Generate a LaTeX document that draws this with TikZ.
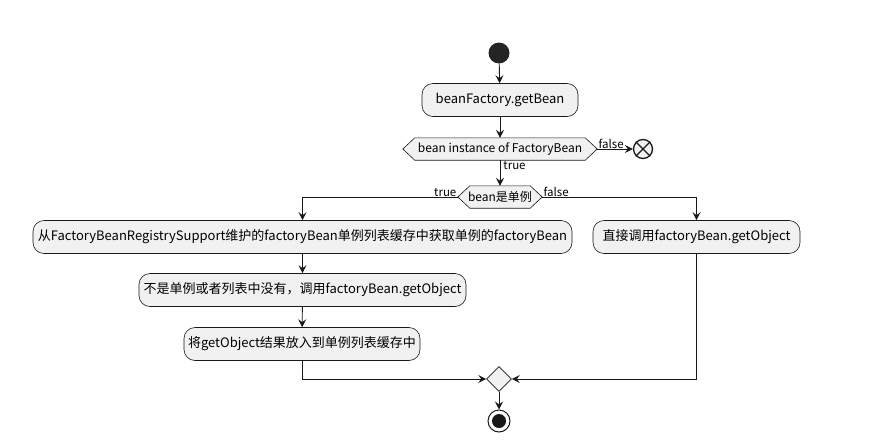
\documentclass[tikz,border=0pt]{standalone}
\usepackage{fontspec}
\setmainfont{Noto Sans CJK SC}
\usetikzlibrary{arrows.meta,shapes.geometric,calc}
\definecolor{actfill}{HTML}{F1F1F1}
\definecolor{lineclr}{HTML}{181818}
\tikzset{
  act/.style={draw=lineclr,fill=actfill,rounded corners=11pt,line width=0.6pt,minimum height=33pt,inner xsep=0pt,font=\fontsize{13}{15}\selectfont,anchor=center},
  hexbox/.style={draw=none,minimum height=22pt,inner sep=0pt,font=\fontsize{12}{14}\selectfont},
  hexline/.style={draw=lineclr,fill=actfill,line width=0.6pt},
  arr/.style={draw=lineclr,line width=0.9pt,-{Stealth[length=8pt,width=8pt,inset=3pt]}},
  lbl/.style={font=\fontsize{11.5}{13}\selectfont,inner sep=1pt,text=black},
}
\begin{document}
\begin{tikzpicture}[x=1pt,y=-1pt]
\useasboundingbox (0,0) rectangle (875,442);
% start
\node[circle,fill=lineclr!95,minimum size=21pt,inner sep=0pt] (start) at (499,53) {};
\node[act,minimum width=156pt] (b1) at (500,100) {beanFactory.getBean};
% hexagon 1
\node[hexbox,minimum width=194pt] (h1) at (500,149) {};
\draw[hexline] (h1.west) -- ([xshift=12pt]h1.north west) -- ([xshift=-12pt]h1.north east) -- (h1.east) -- ([xshift=-12pt]h1.south east) -- ([xshift=12pt]h1.south west) -- cycle;
\node[hexbox] at (h1) {bean instance of FactoryBean};
% end X
\node[circle,draw=lineclr,fill=actfill,line width=1.3pt,minimum size=19pt,inner sep=0pt] (endx) at (643,149) {};
\draw[lineclr,line width=1.3pt] (endx.north east) -- (endx.south west) (endx.north west) -- (endx.south east);
% hexagon 2
\node[hexbox,minimum width=84pt] (h2) at (500,197) {};
\draw[hexline] (h2.west) -- ([xshift=12pt]h2.north west) -- ([xshift=-12pt]h2.north east) -- (h2.east) -- ([xshift=-12pt]h2.south east) -- ([xshift=12pt]h2.south west) -- cycle;
\node[hexbox] at (h2) {bean是单例};
% boxes
\node[act,minimum width=539pt] (b2) at (302.5,237) {从FactoryBeanRegistrySupport维护的factoryBean单例列表缓存中获取单例的factoryBean};
\node[act,minimum width=207pt] (b3) at (696.5,237) {直接调用factoryBean.getObject};
\node[act,minimum width=327pt] (b4) at (302.5,290) {不是单例或者列表中没有，调用factoryBean.getObject};
\node[act,minimum width=236pt] (b5) at (302,344) {将getObject结果放入到单例列表缓存中};
% merge
\node[diamond,draw=lineclr,fill=actfill,line width=0.6pt,minimum size=25pt,inner sep=0pt] (mg) at (499,379) {};
% end
\node[circle,draw=lineclr,fill=white,line width=1pt,minimum size=22pt,inner sep=0pt] (stop) at (499,421) {};
\fill[lineclr] (stop) circle (7pt);
% connectors
\draw[arr] (start) -- (b1);
\draw[arr] (b1) -- (h1.north);
\draw[arr] (h1.east) -- (endx.west) node[pos=0,lbl,anchor=south west,xshift=0pt,yshift=-1pt] {false};
\draw[arr] (h1.south) -- (h2.north) node[pos=0,lbl,anchor=north west,xshift=2pt,yshift=0pt] {true};
\draw[arr] (h2.west) -| (b2.north) node[pos=0,lbl,anchor=south east,yshift=-1pt] {true};
\draw[arr] (h2.east) -| (b3.north) node[pos=0,lbl,anchor=south west,yshift=-1pt] {false};
\draw[arr] (b2) -- (b4);
\draw[arr] (b4) -- (b5);
\draw[arr] (b5.south) |- (mg.west);
\draw[arr] (b3.south) |- (mg.east);
\draw[arr] (mg.south) -- (stop);
\end{tikzpicture}
\end{document}
